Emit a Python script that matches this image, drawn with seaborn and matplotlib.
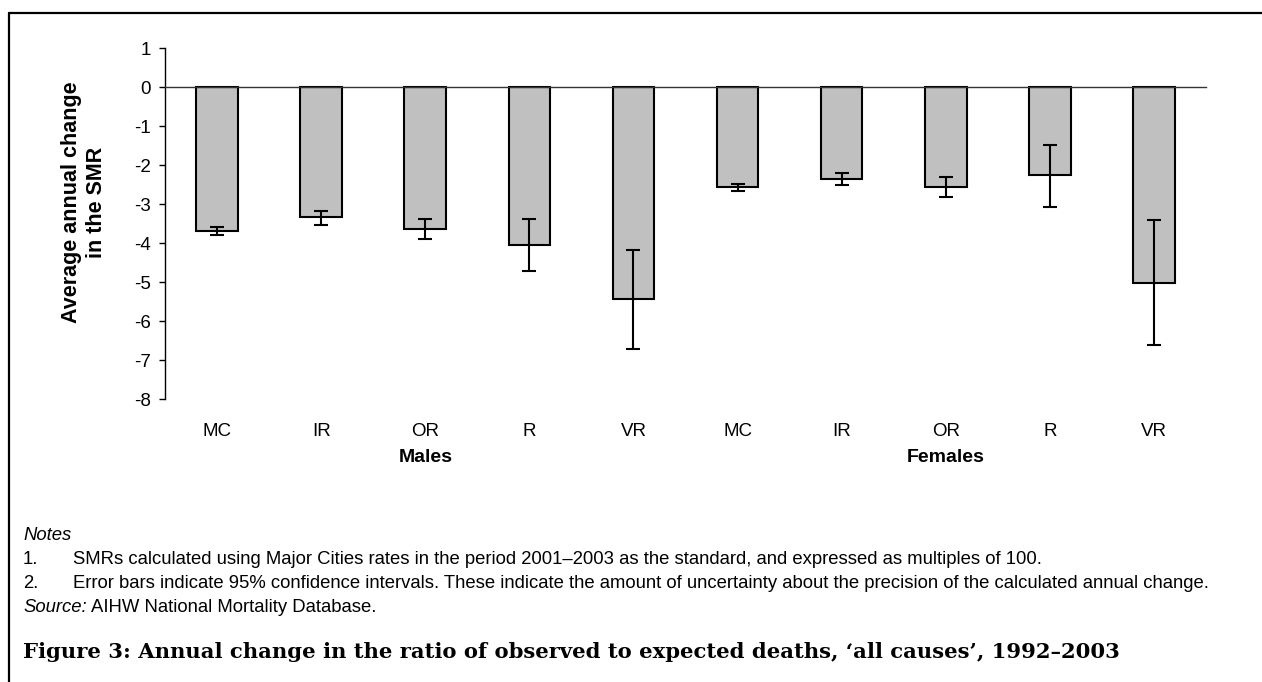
# Annual change in SMR, all causes 1992-2003 (bar chart with 95% CI)
import numpy as np
import pandas as pd
import seaborn as sns
import matplotlib.pyplot as plt
from matplotlib import transforms
from matplotlib.lines import Line2D

# data
groups = ['Males', 'Females']
regions = ['MC', 'IR', 'OR', 'R', 'VR']
male_change = [-3.70, -3.34, -3.65, -4.05, -5.43]
male_lo = [-3.80, -3.54, -3.90, -4.71, -6.72]
male_hi = [-3.58, -3.18, -3.39, -3.39, -4.17]
female_change = [-2.56, -2.35, -2.56, -2.26, -5.03]
female_lo = [-2.67, -2.52, -2.82, -3.07, -6.62]
female_hi = [-2.47, -2.21, -2.31, -1.49, -3.40]
y_ticks = list(range(-8, 2))

notes = [
    'SMRs calculated using Major Cities rates in the period 2001\u20132003 as the standard, and expressed as multiples of 100.',
    'Error bars indicate 95% confidence intervals. These indicate the amount of uncertainty about the precision of the calculated annual change.',
]
caption = 'Figure 3: Annual change in the ratio of observed to expected deaths, \u2018all causes\u2019, 1992\u20132003'

df = pd.DataFrame({
    'group': np.repeat(groups, len(regions)),
    'region': regions * 2,
    'change': male_change + female_change,
    'lo': male_lo + female_lo,
    'hi': male_hi + female_hi,
})
df['key'] = df['group'] + ' ' + df['region']

sns.set_style('white')
plt.rcParams['font.family'] = ['Liberation Sans', 'DejaVu Sans']
plt.rcParams['text.color'] = 'black'
plt.rcParams['ytick.color'] = 'black'
plt.rcParams['xtick.color'] = 'black'
plt.rcParams['axes.labelcolor'] = 'black'

W, H = 1262, 682
fig = plt.figure(figsize=(W / 100, H / 100), dpi=100)
ax = fig.add_axes([165 / W, 1 - 399 / H, (1206 - 165) / W, (399 - 48.3) / H])

sns.barplot(data=df, x='key', y='change', color='#c0c0c0', saturation=1,
            edgecolor='black', linewidth=1.5, width=0.4, errorbar=None, ax=ax)
xs = np.arange(len(df))
ax.errorbar(xs, df['change'], yerr=[df['change'] - df['lo'], df['hi'] - df['change']],
            fmt='none', ecolor='black', elinewidth=1.5, capsize=5, capthick=1.5)

ax.set_xlim(-0.5, len(df) - 0.5)
ax.set_ylim(-8, 1)
ax.set_yticks(y_ticks)
ax.set_yticklabels([str(t) for t in y_ticks], fontsize=13.5)
ax.set_xticks(np.arange(-0.5, len(df)))
ax.set_xticklabels([])
ax.set_xlabel('')
ax.set_ylabel('')
for s in ['top', 'right']:
    ax.spines[s].set_visible(False)
ax.spines['bottom'].set_position(('data', 0))
ax.spines['bottom'].set_color('#333333')
ax.spines['bottom'].set_linewidth(1)
ax.spines['left'].set_color('black')
ax.spines['left'].set_linewidth(1)
ax.tick_params(axis='x', direction='out', length=4.5, width=1, color='black')
ax.tick_params(axis='y', direction='out', length=4, width=1, color='black', pad=6, left=True)

# category labels and group labels below the plot
tr = transforms.blended_transform_factory(ax.transData, fig.transFigure)
for i, reg in enumerate(df['region']):
    ax.text(i, 1 - 432 / H, reg, transform=tr, ha='center', va='center', fontsize=13.5, clip_on=False)
for g, grp in enumerate(groups):
    ax.text(g * len(regions) + 2, 1 - 458 / H, grp, transform=tr, ha='center', va='center',
            fontsize=14, fontweight='bold', clip_on=False)

fig.text(84 / W, 1 - 202 / H, 'Average annual change\nin the SMR', rotation=90,
         ha='center', va='center', multialignment='center', fontsize=15.5,
         fontweight='bold', linespacing=1.2)


def fit_width(t, target_px):
    # scale font size so the text spans target_px
    fig.canvas.draw()
    w = t.get_window_extent().width
    t.set_fontsize(t.get_fontsize() * target_px / w)
    return t.get_fontsize()


# notes block
note_texts = []
for k, note in enumerate(notes):
    y = 1 - (559 + 24 * k) / H
    note_texts.append(fig.text(73 / W, y, note, fontsize=12, va='center'))
fs_note = fit_width(note_texts[1], 1219 - 73)
note_texts[0].set_fontsize(fs_note)
for k in range(len(notes)):
    fig.text(23 / W, 1 - (559 + 24 * k) / H, f'{k + 1}.', fontsize=fs_note, va='center')
fig.text(23 / W, 1 - 535 / H, 'Notes', style='italic', fontsize=fs_note, va='center')
src = fig.text(23 / W, 1 - 607 / H, 'Source:', style='italic', fontsize=fs_note, va='center')
fig.canvas.draw()
bb = src.get_window_extent()
fig.text((bb.x1 + 4) / W, 1 - 607 / H, 'AIHW National Mortality Database.', fontsize=fs_note, va='center')

cap = fig.text(23 / W, 1 - 652 / H, caption, family='DejaVu Serif', fontweight='bold',
               fontsize=14, va='center')
fit_width(cap, 1117 - 23)

# frame lines (left and top)
fig.add_artist(Line2D([9 / W, 9 / W], [0, 1 - 13 / H], transform=fig.transFigure, color='black', lw=1.6))
fig.add_artist(Line2D([9 / W, 1], [1 - 13 / H, 1 - 13 / H], transform=fig.transFigure, color='black', lw=1.6))

fig.savefig('out.png', dpi=100, facecolor='white')
